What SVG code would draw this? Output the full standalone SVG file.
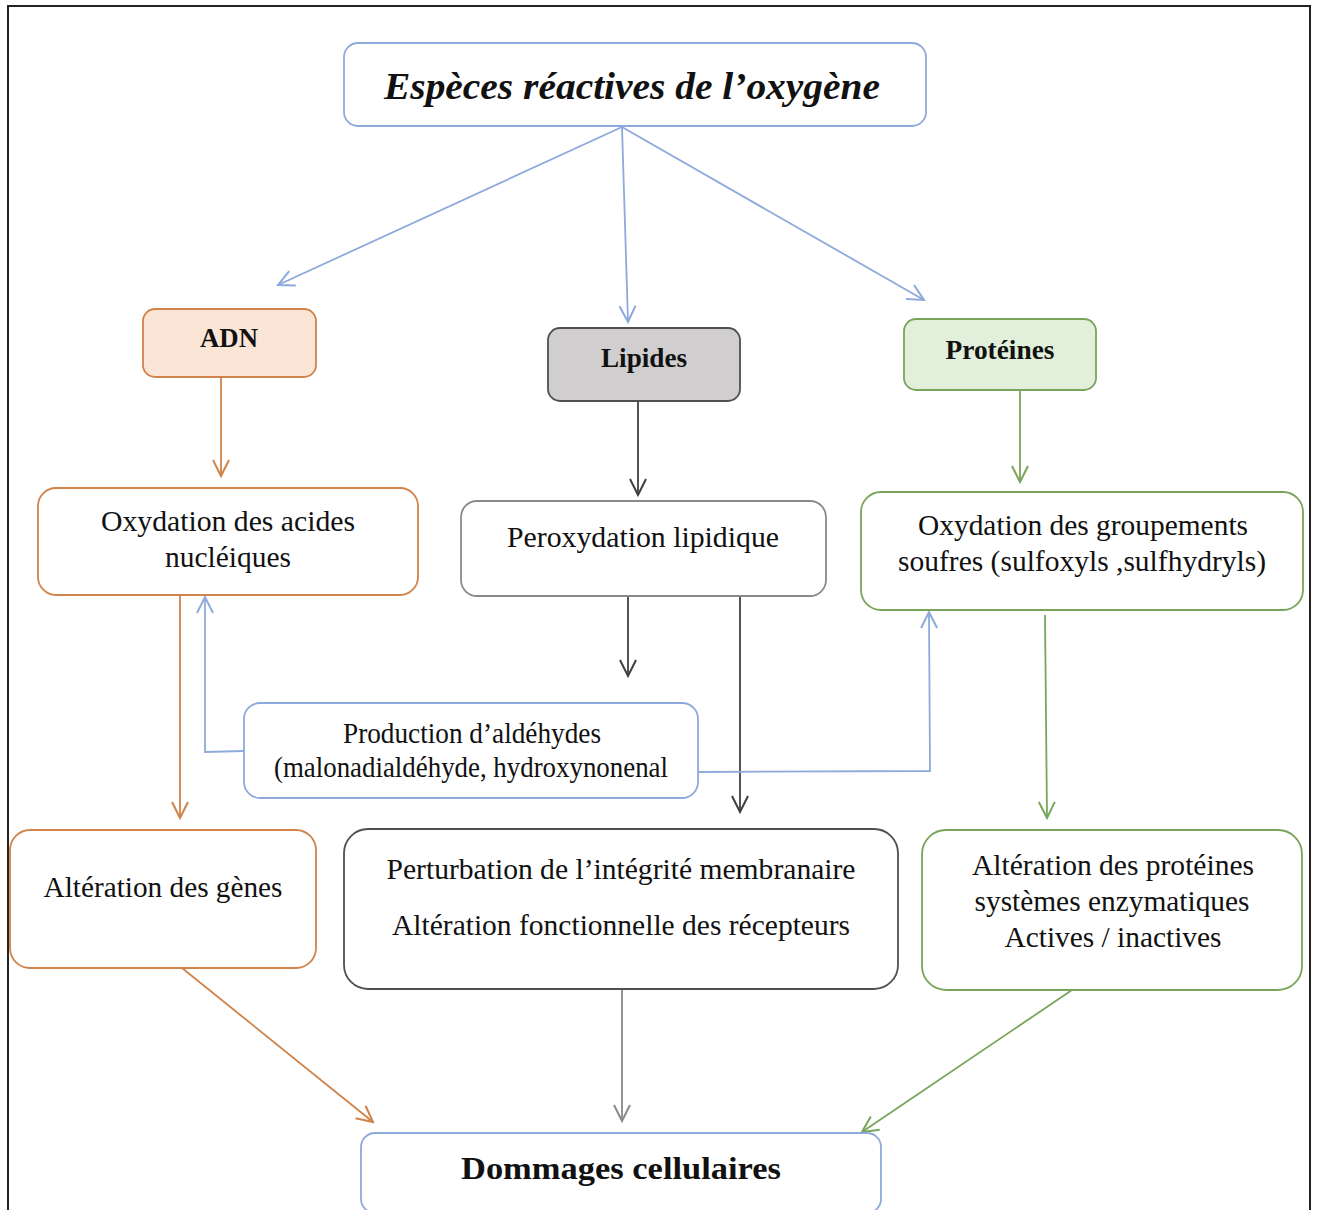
<svg xmlns="http://www.w3.org/2000/svg" width="1318" height="1210" viewBox="0 0 1318 1210">
<style>
.t{font-family:"Liberation Serif","Times New Roman",serif;font-size:30px;fill:#111;text-anchor:middle}
.b{font-weight:bold}
.box{fill:#fff;stroke-width:1.8}
.bl{stroke:#8eaadb}.or{stroke:#d0834a}.gr{stroke:#78a55a}.gy{stroke:#8a8a8a}.dk{stroke:#505050}
.c{fill:none;stroke-width:1.8}
</style>
<defs>
<marker id="mb" viewBox="0 0 20 20" refX="18" refY="10" markerWidth="20" markerHeight="20" markerUnits="userSpaceOnUse" orient="auto"><path d="M2,2 L18,10 L2,18" fill="none" stroke="#8eaadb" stroke-width="2"/></marker>
<marker id="mo" viewBox="0 0 20 20" refX="18" refY="10" markerWidth="20" markerHeight="20" markerUnits="userSpaceOnUse" orient="auto"><path d="M2,2 L18,10 L2,18" fill="none" stroke="#d0834a" stroke-width="2"/></marker>
<marker id="mg" viewBox="0 0 20 20" refX="18" refY="10" markerWidth="20" markerHeight="20" markerUnits="userSpaceOnUse" orient="auto"><path d="M2,2 L18,10 L2,18" fill="none" stroke="#78a55a" stroke-width="2"/></marker>
<marker id="md" viewBox="0 0 20 20" refX="18" refY="10" markerWidth="20" markerHeight="20" markerUnits="userSpaceOnUse" orient="auto"><path d="M2,2 L18,10 L2,18" fill="none" stroke="#404040" stroke-width="2"/></marker>
<marker id="my" viewBox="0 0 20 20" refX="18" refY="10" markerWidth="20" markerHeight="20" markerUnits="userSpaceOnUse" orient="auto"><path d="M2,2 L18,10 L2,18" fill="none" stroke="#8a8a8a" stroke-width="2"/></marker>
</defs>
<rect x="0" y="0" width="1318" height="1210" fill="#fff"/>
<path d="M8,1212 L8,6 L1310,6 L1310,1212" fill="none" stroke="#222" stroke-width="2"/>

<g id="connectors">
<path class="c bl" d="M622,127 L278,285" marker-end="url(#mb)"/>
<path class="c bl" d="M622,127 L628,322" marker-end="url(#mb)"/>
<path class="c bl" d="M622,127 L924,300" marker-end="url(#mb)"/>
<path class="c or" d="M221,378 L221,476" marker-end="url(#mo)"/>
<path class="c" style="stroke:#404040" d="M638,401 L638,495" marker-end="url(#md)"/>
<path class="c gr" d="M1020,390 L1020,482" marker-end="url(#mg)"/>
<path class="c or" d="M180,596 L180,818" marker-end="url(#mo)"/>
<path class="c bl" d="M244,751 L205,752 L205,597" marker-end="url(#mb)"/>
<path class="c" style="stroke:#404040" d="M628,597 L628,676" marker-end="url(#md)"/>
<path class="c" style="stroke:#404040" d="M740,597 L740,812" marker-end="url(#md)"/>
<path class="c bl" d="M698,772 L930,771 L929,612" marker-end="url(#mb)"/>
<path class="c gr" d="M1045,615 L1047,818" marker-end="url(#mg)"/>
<path class="c or" d="M182,968 L373,1122" marker-end="url(#mo)"/>
<path class="c gy" d="M622,990 L622,1121" marker-end="url(#my)"/>
<path class="c gr" d="M1072,990 L862,1132" marker-end="url(#mg)"/>
</g>

<g id="n-eros">
<rect class="box bl" x="344" y="43" width="582" height="83" rx="14"/>
<text class="t b" x="632" y="99" style="font-size:38px;font-style:italic" textLength="496" lengthAdjust="spacingAndGlyphs">Espèces réactives de l’oxygène</text>
</g>
<g id="n-adn">
<rect class="box or" style="fill:#fbe5d6" x="143" y="309" width="173" height="68" rx="12"/>
<text class="t b" x="229" y="347" style="font-size:28px" textLength="58" lengthAdjust="spacingAndGlyphs">ADN</text>
</g>
<g id="n-lipides">
<rect class="box dk" style="fill:#d0cece" x="548" y="328" width="192" height="73" rx="12"/>
<text class="t b" x="644" y="367" style="font-size:28px" textLength="86" lengthAdjust="spacingAndGlyphs">Lipides</text>
</g>
<g id="n-proteines">
<rect class="box gr" style="fill:#e2efda" x="904" y="319" width="192" height="71" rx="12"/>
<text class="t b" x="1000" y="359" style="font-size:28px" textLength="109" lengthAdjust="spacingAndGlyphs">Protéines</text>
</g>
<g id="n-oxy-acides">
<rect class="box or" x="38" y="488" width="380" height="107" rx="18"/>
<text class="t" x="228" y="531" textLength="254" lengthAdjust="spacingAndGlyphs">Oxydation des acides</text>
<text class="t" x="228" y="567" textLength="126" lengthAdjust="spacingAndGlyphs">nucléiques</text>
</g>
<g id="n-peroxydation">
<rect class="box gy" x="461" y="501" width="365" height="95" rx="16"/>
<text class="t" x="643" y="547" textLength="272" lengthAdjust="spacingAndGlyphs">Peroxydation lipidique</text>
</g>
<g id="n-oxy-soufres">
<rect class="box gr" x="861" y="492" width="442" height="118" rx="20"/>
<text class="t" x="1083" y="535" textLength="330" lengthAdjust="spacingAndGlyphs">Oxydation des groupements</text>
<text class="t" x="1082" y="571" textLength="368" lengthAdjust="spacingAndGlyphs">soufres (sulfoxyls ,sulfhydryls)</text>
</g>
<g id="n-aldehydes">
<rect class="box bl" x="244" y="703" width="454" height="95" rx="16"/>
<text class="t" x="472" y="743" textLength="258" lengthAdjust="spacingAndGlyphs">Production d’aldéhydes</text>
<text class="t" x="471" y="777" textLength="394" lengthAdjust="spacingAndGlyphs">(malonadialdéhyde, hydroxynonenal</text>
</g>
<g id="n-genes">
<rect class="box or" x="10" y="830" width="306" height="138" rx="20"/>
<text class="t" x="163" y="897" textLength="239" lengthAdjust="spacingAndGlyphs">Altération des gènes</text>
</g>
<g id="n-membrane">
<rect class="box dk" x="344" y="829" width="554" height="160" rx="24"/>
<text class="t" x="621" y="879" textLength="469" lengthAdjust="spacingAndGlyphs">Perturbation de l’intégrité membranaire</text>
<text class="t" x="621" y="935" textLength="458" lengthAdjust="spacingAndGlyphs">Altération fonctionnelle des récepteurs</text>
</g>
<g id="n-alt-proteines">
<rect class="box gr" x="922" y="830" width="380" height="160" rx="24"/>
<text class="t" x="1113" y="875" textLength="282" lengthAdjust="spacingAndGlyphs">Altération des protéines</text>
<text class="t" x="1112" y="911" textLength="275" lengthAdjust="spacingAndGlyphs">systèmes enzymatiques</text>
<text class="t" x="1113" y="947" textLength="217" lengthAdjust="spacingAndGlyphs">Actives / inactives</text>
</g>
<g id="n-dommages">
<rect class="box bl" x="361" y="1133" width="520" height="80" rx="14"/>
<text class="t b" x="621" y="1179" style="font-size:32px" textLength="320" lengthAdjust="spacingAndGlyphs">Dommages cellulaires</text>
</g>
</svg>
